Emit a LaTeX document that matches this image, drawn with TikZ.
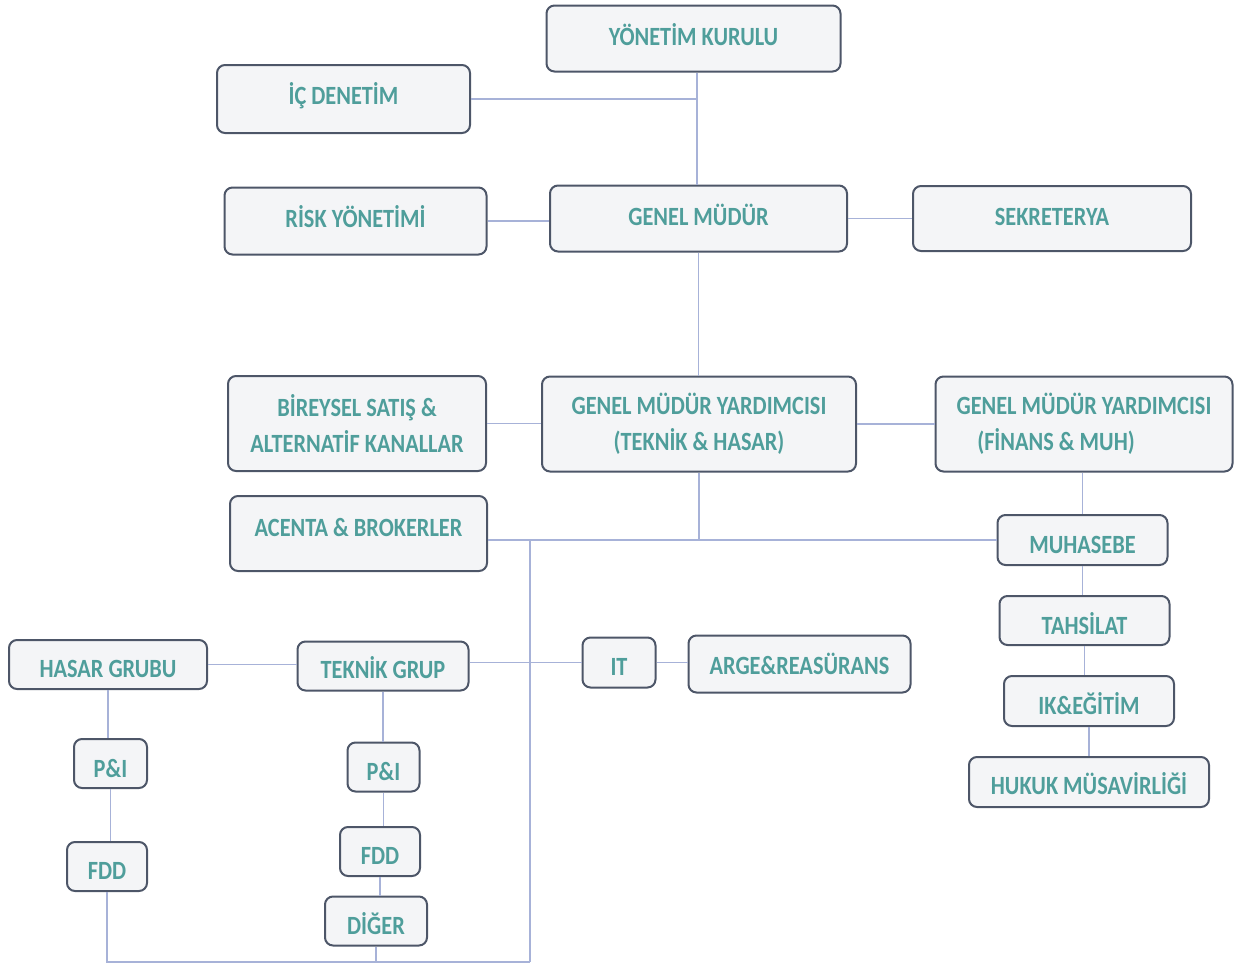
\documentclass[tikz,border=0pt]{standalone}
\usepackage{fontspec}
\usepackage{graphicx}
\setmainfont{Carlito}
\definecolor{txt}{HTML}{4F9E9B}
\definecolor{bord}{HTML}{4D5668}
\definecolor{fillc}{HTML}{F4F5F7}
\definecolor{conn}{HTML}{A7B2D8}
\newcommand\tl[2][0]{\raisebox{#1pt}[\height][\depth]{\scalebox{1}[1.18]{#2}}}
\tikzset{
  box/.style={draw=bord, line width=2pt, fill=fillc, rounded corners=8pt,
    text=txt, font=\bfseries\fontsize{22.3}{36.5}\selectfont, align=center,
    inner sep=0pt},
  link/.style={draw=conn, line width=1.6pt}
}
\begin{document}
\begin{tikzpicture}[x=1pt,y=-1pt]
\useasboundingbox (0,0) rectangle (1234,967);
% nodes
\node[box, minimum width=294, minimum height=66] (YK) at (693.5,38.5) {\tl[4]{YÖNETİM KURULU}};
\node[box, minimum width=253, minimum height=68] (IC) at (343.5,99) {\tl[3]{İÇ DENETİM}};
\node[box, minimum width=262, minimum height=67] (RISK) at (355.5,221) {\tl[4]{RİSK YÖNETİMİ}};
\node[box, minimum width=297, minimum height=66] (GM) at (698.5,218.5) {\tl[4]{GENEL MÜDÜR}};
\node[box, minimum width=278, minimum height=65] (SEK) at (1052,218.5) {\tl[2]{SEKRETERYA}};
\node[box, minimum width=258, minimum height=95] (BIR) at (357,423.5) {\tl{BİREYSEL SATIŞ \&}\\\tl{ALTERNATİF KANALLAR}};
\node[box, minimum width=314, minimum height=95] (GMYA) at (699,424) {\tl{GENEL MÜDÜR YARDIMCISI}\\\tl{(TEKNİK \& HASAR)}};
\node[box, minimum width=297, minimum height=95] (GMYB) at (1084,424) {\tl{GENEL MÜDÜR YARDIMCISI}\\\tl{(FİNANS \& MUH)}\kern56pt};
\node[box, minimum width=257, minimum height=75, text depth=14pt] (ACE) at (358.5,533.5) {\tl[-1]{ACENTA \& BROKERLER}};
\node[box, minimum width=170, minimum height=50] (MUH) at (1082.5,540) {\tl[-5]{MUHASEBE}};
\node[box, minimum width=170, minimum height=49] (TAH) at (1084.5,620.5) {\tl[-3]{TAHSİLAT}};
\node[box, minimum width=170, minimum height=50] (IK) at (1089,701) {\tl[-3]{IK\&EĞİTİM}};
\node[box, minimum width=240, minimum height=50] (HUK) at (1089,782) {\tl[-2]{HUKUK MÜSAVİRLİĞİ}};
\node[box, minimum width=198, minimum height=49] (HAS) at (108,664.5) {\tl[-4]{HASAR GRUBU}};
\node[box, minimum width=171, minimum height=49] (TEK) at (383,666) {\tl[-2]{TEKNİK GRUP}};
\node[box, minimum width=73, minimum height=50] (IT) at (619,662.5) {\tl[-4]{IT}};
\node[box, minimum width=222, minimum height=57] (ARGE) at (799.5,664) {\tl{ARGE\&REASÜRANS}};
\node[box, minimum width=73, minimum height=49] (PIA) at (110.5,763.5) {\tl[-5]{P\&I}};
\node[box, minimum width=80, minimum height=49] (FDDA) at (107,866.5) {\tl[-4]{FDD}};
\node[box, minimum width=72, minimum height=49] (PIB) at (383.5,767) {\tl[-4]{P\&I}};
\node[box, minimum width=80, minimum height=49] (FDDB) at (380,851.5) {\tl[-4]{FDD}};
\node[box, minimum width=102, minimum height=49] (DIG) at (376,921) {\tl[-3]{DİĞER}};
% helper coordinates
\coordinate (spine) at (697,0);
\coordinate (bus) at (530,540);
\coordinate (bot) at (530,962);
% connectors
\draw[link] (YK.south -| spine) -- (GM.north -| spine);
\draw[link] (IC.east) -- (IC.east -| spine);
\draw[link] (GM.south) -- (GM.south |- GMYA.north);
\draw[link] (RISK.east) -- (RISK.east -| GM.west);
\draw[link] (GM.east) -- (GM.east -| SEK.west);
\draw[link] (BIR.east) -- (BIR.east -| GMYA.west);
\draw[link] (GMYA.east) -- (GMYA.east -| GMYB.west);
\draw[link] (GMYA.south) -- (GMYA.south |- bus);
\draw[link] (bus -| ACE.east) -- (MUH.west);
\draw[link] (bus) -- (bot);
\draw[link] (FDDA.south) -- (FDDA.south |- bot) -- (bot);
\draw[link] (DIG.south) -- (DIG.south |- bot);
\draw[link] (IT.west -| TEK.east) -- (IT.west);
\draw[link] (IT.east) -- (IT.east -| ARGE.west);
\draw[link] (HAS.east) -- (HAS.east -| TEK.west);
\draw[link] (HAS.south) -- (HAS.south |- PIA.north);
\draw[link] (PIA.south) -- (PIA.south |- FDDA.north);
\draw[link] (TEK.south) -- (TEK.south |- PIB.north);
\draw[link] (PIB.south) -- (PIB.south |- FDDB.north);
\draw[link] (FDDB.south) -- (FDDB.south |- DIG.north);
\draw[link] (GMYB.south -| MUH.north) -- (MUH.north);
\draw[link] (MUH.south) -- (MUH.south |- TAH.north);
\draw[link] (TAH.south) -- (TAH.south |- IK.north);
\draw[link] (IK.south) -- (IK.south |- HUK.north);
\end{tikzpicture}
\end{document}
